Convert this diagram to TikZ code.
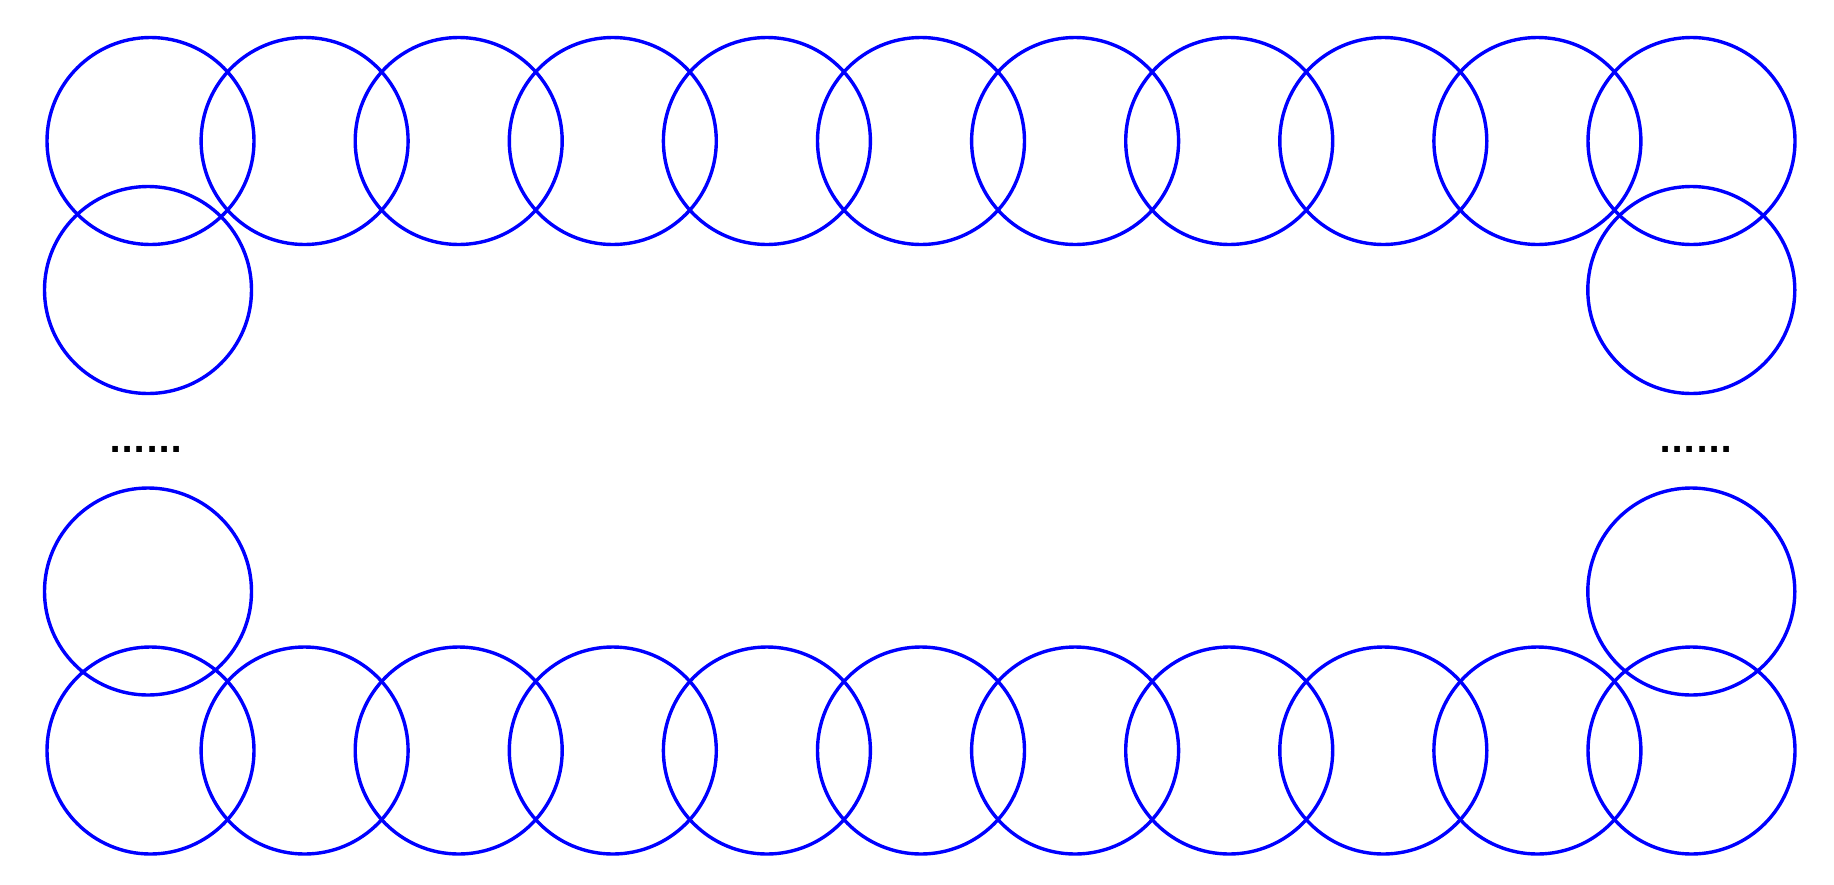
\documentclass[tikz,border=0pt]{standalone}
\usepackage{fontspec}
\newfontfamily\dotfont{DejaVu Sans}
\tikzset{ring/.style={circle,draw=blue,line width=3.4pt,minimum size=207pt,inner sep=0pt},
  gap/.style={inner sep=0pt,font=\dotfont\bfseries\fontsize{32}{32}\selectfont}}
\begin{document}
\begin{tikzpicture}[x=1pt,y=-1pt]
  \useasboundingbox (0,0) rectangle (1834,884);
  % top and bottom rows
  \foreach \i in {1,...,11} {
    \node[ring] (T\i) at ({150.5+154.1*(\i-1)},141) {};
    \node[ring] (B\i) at ({150.5+154.1*(\i-1)},750.5) {};
  }
  % left column
  \node[ring] (L2) at (148,290) {};
  \node[gap] (Ldots) at (146,449) {......};
  \node[ring] (L3) at (148,591.5) {};
  % right column
  \node[ring] (R2) at (1691.3,290) {};
  \node[gap] (Rdots) at (1696,449) {......};
  \node[ring] (R3) at (1691.3,591.5) {};
\end{tikzpicture}
\end{document}
